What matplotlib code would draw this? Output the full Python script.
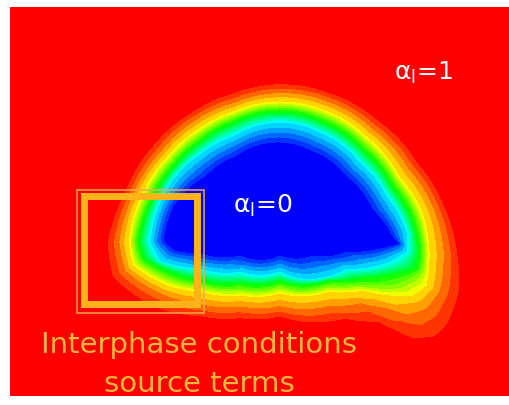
import numpy as np
import matplotlib
matplotlib.use("Agg")
import matplotlib.pyplot as plt
from matplotlib.colors import LinearSegmentedColormap
from matplotlib.patches import Rectangle

plt.rcParams["font.family"] = ["DejaVu Sans"]

# liquid fraction contours, pixel coords (y down), inner to outer
levels_read = [0.05, 0.25, 0.5, 0.75, 0.87, 0.97]

blue_x = [280, 235, 205, 173, 163, 175, 200, 240, 280, 313, 347, 380, 400, 393, 373, 347, 313]
blue_y = [143, 157, 177, 207, 243, 252, 255, 257, 257, 257, 253, 250, 245, 237, 210, 177, 152]

cyan_x = [280, 233, 200, 173, 160, 150, 160, 200, 240, 280, 347, 390, 407, 407, 387, 360, 320]
cyan_y = [123, 137, 155, 180, 203, 243, 262, 270, 273, 273, 270, 263, 253, 233, 197, 163, 133]

green_x = [280, 233, 200, 173, 150, 138, 143, 167, 200, 240, 280, 330, 363, 390, 417, 420, 413, 393, 363, 323]
green_y = [112, 123, 142, 167, 203, 243, 260, 273, 282, 285, 283, 282, 280, 277, 270, 253, 220, 187, 150, 122]

yellow_x = [280, 233, 197, 167, 140, 128, 133, 167, 200, 240, 280, 330, 363, 390, 413, 427, 430, 423, 400, 367, 323]
yellow_y = [102, 112, 130, 157, 198, 243, 267, 287, 293, 297, 295, 293, 292, 297, 297, 287, 253, 213, 177, 137, 110]

orange_x = [280, 233, 193, 160, 130, 117, 123, 167, 200, 240, 280, 330, 363, 390, 413, 430, 443, 447, 437, 410, 373, 327]
orange_y = [92, 102, 120, 150, 198, 243, 273, 300, 308, 310, 310, 310, 307, 313, 320, 313, 293, 253, 210, 167, 127, 100]

outer_x = [280, 233, 190, 153, 122, 105, 110, 150, 200, 240, 280, 347, 380, 400, 420, 440, 453, 463, 460, 447, 420, 380, 330]
outer_y = [83, 92, 112, 143, 195, 243, 280, 310, 320, 322, 320, 323, 327, 337, 347, 343, 327, 293, 253, 207, 163, 120, 92]

contours = [(blue_x, blue_y), (cyan_x, cyan_y), (green_x, green_y),
            (yellow_x, yellow_y), (orange_x, orange_y), (outer_x, outer_y)]

CX, CY = 280, 215


def radius_at(xs, ys, ang):
    xs = np.asarray(xs, float) - CX
    ys = np.asarray(ys, float) - CY
    a = np.arctan2(ys, xs)
    r = np.hypot(xs, ys)
    return np.interp(ang, a, r, period=2 * np.pi)


X, Y = np.meshgrid(np.arange(10, 511), np.arange(8, 398))
ang = np.arctan2(Y - CY, X - CX)
rad = np.hypot(X - CX, Y - CY)
R = np.array([radius_at(cx, cy, ang) for cx, cy in contours])

alpha = np.ones_like(rad, dtype=float)
alpha[rad < R[0]] = 0.0
for k in range(len(contours) - 1):
    m = (rad >= R[k]) & (rad < R[k + 1])
    frac = (rad[m] - R[k][m]) / (R[k + 1][m] - R[k][m])
    alpha[m] = levels_read[k] + frac * (levels_read[k + 1] - levels_read[k])

cmap = LinearSegmentedColormap.from_list(
    "fluent", ["#0000ff", "#00ffff", "#00ff00", "#ffff00", "#ff0000"])
lev = np.linspace(0, 1, 21)
step = lev[1] - lev[0]

fig = plt.figure(figsize=(5.1, 4.06), dpi=100)
fig.patch.set_facecolor("white")
ax = fig.add_axes([10 / 510, 9 / 406, 500 / 510, 389 / 406])
ax.set_facecolor("#ff0000")
ax.contourf(X, Y, alpha, levels=lev, cmap=cmap,
            vmin=lev[0] + step / 2, vmax=lev[-1] - step / 2)
ax.set_xlim(10, 510)
ax.set_ylim(397, 8)
ax.axis("off")

# highlight box around the interface region
ax.add_patch(Rectangle((84, 197), 113, 108, fill=False, ec="#ffb31a", lw=5.0))
ax.add_patch(Rectangle((77.5, 191), 126.5, 122.5, fill=False, ec="#f2a84a", lw=1.1))

ax.text(394, 80, r"$\mathregular{α_l}$=1", color="white", fontsize=18,
        ha="left", va="baseline")
ax.text(233, 213, r"$\mathregular{α_l}$=0", color="white", fontsize=18,
        ha="left", va="baseline")

ax.text(199, 353, "Interphase conditions", color="#f6b53e", fontsize=21,
        ha="center", va="baseline")
ax.text(199, 392, "source terms", color="#f6b53e", fontsize=21,
        ha="center", va="baseline")

fig.savefig("out.png", dpi=100, facecolor="white")
